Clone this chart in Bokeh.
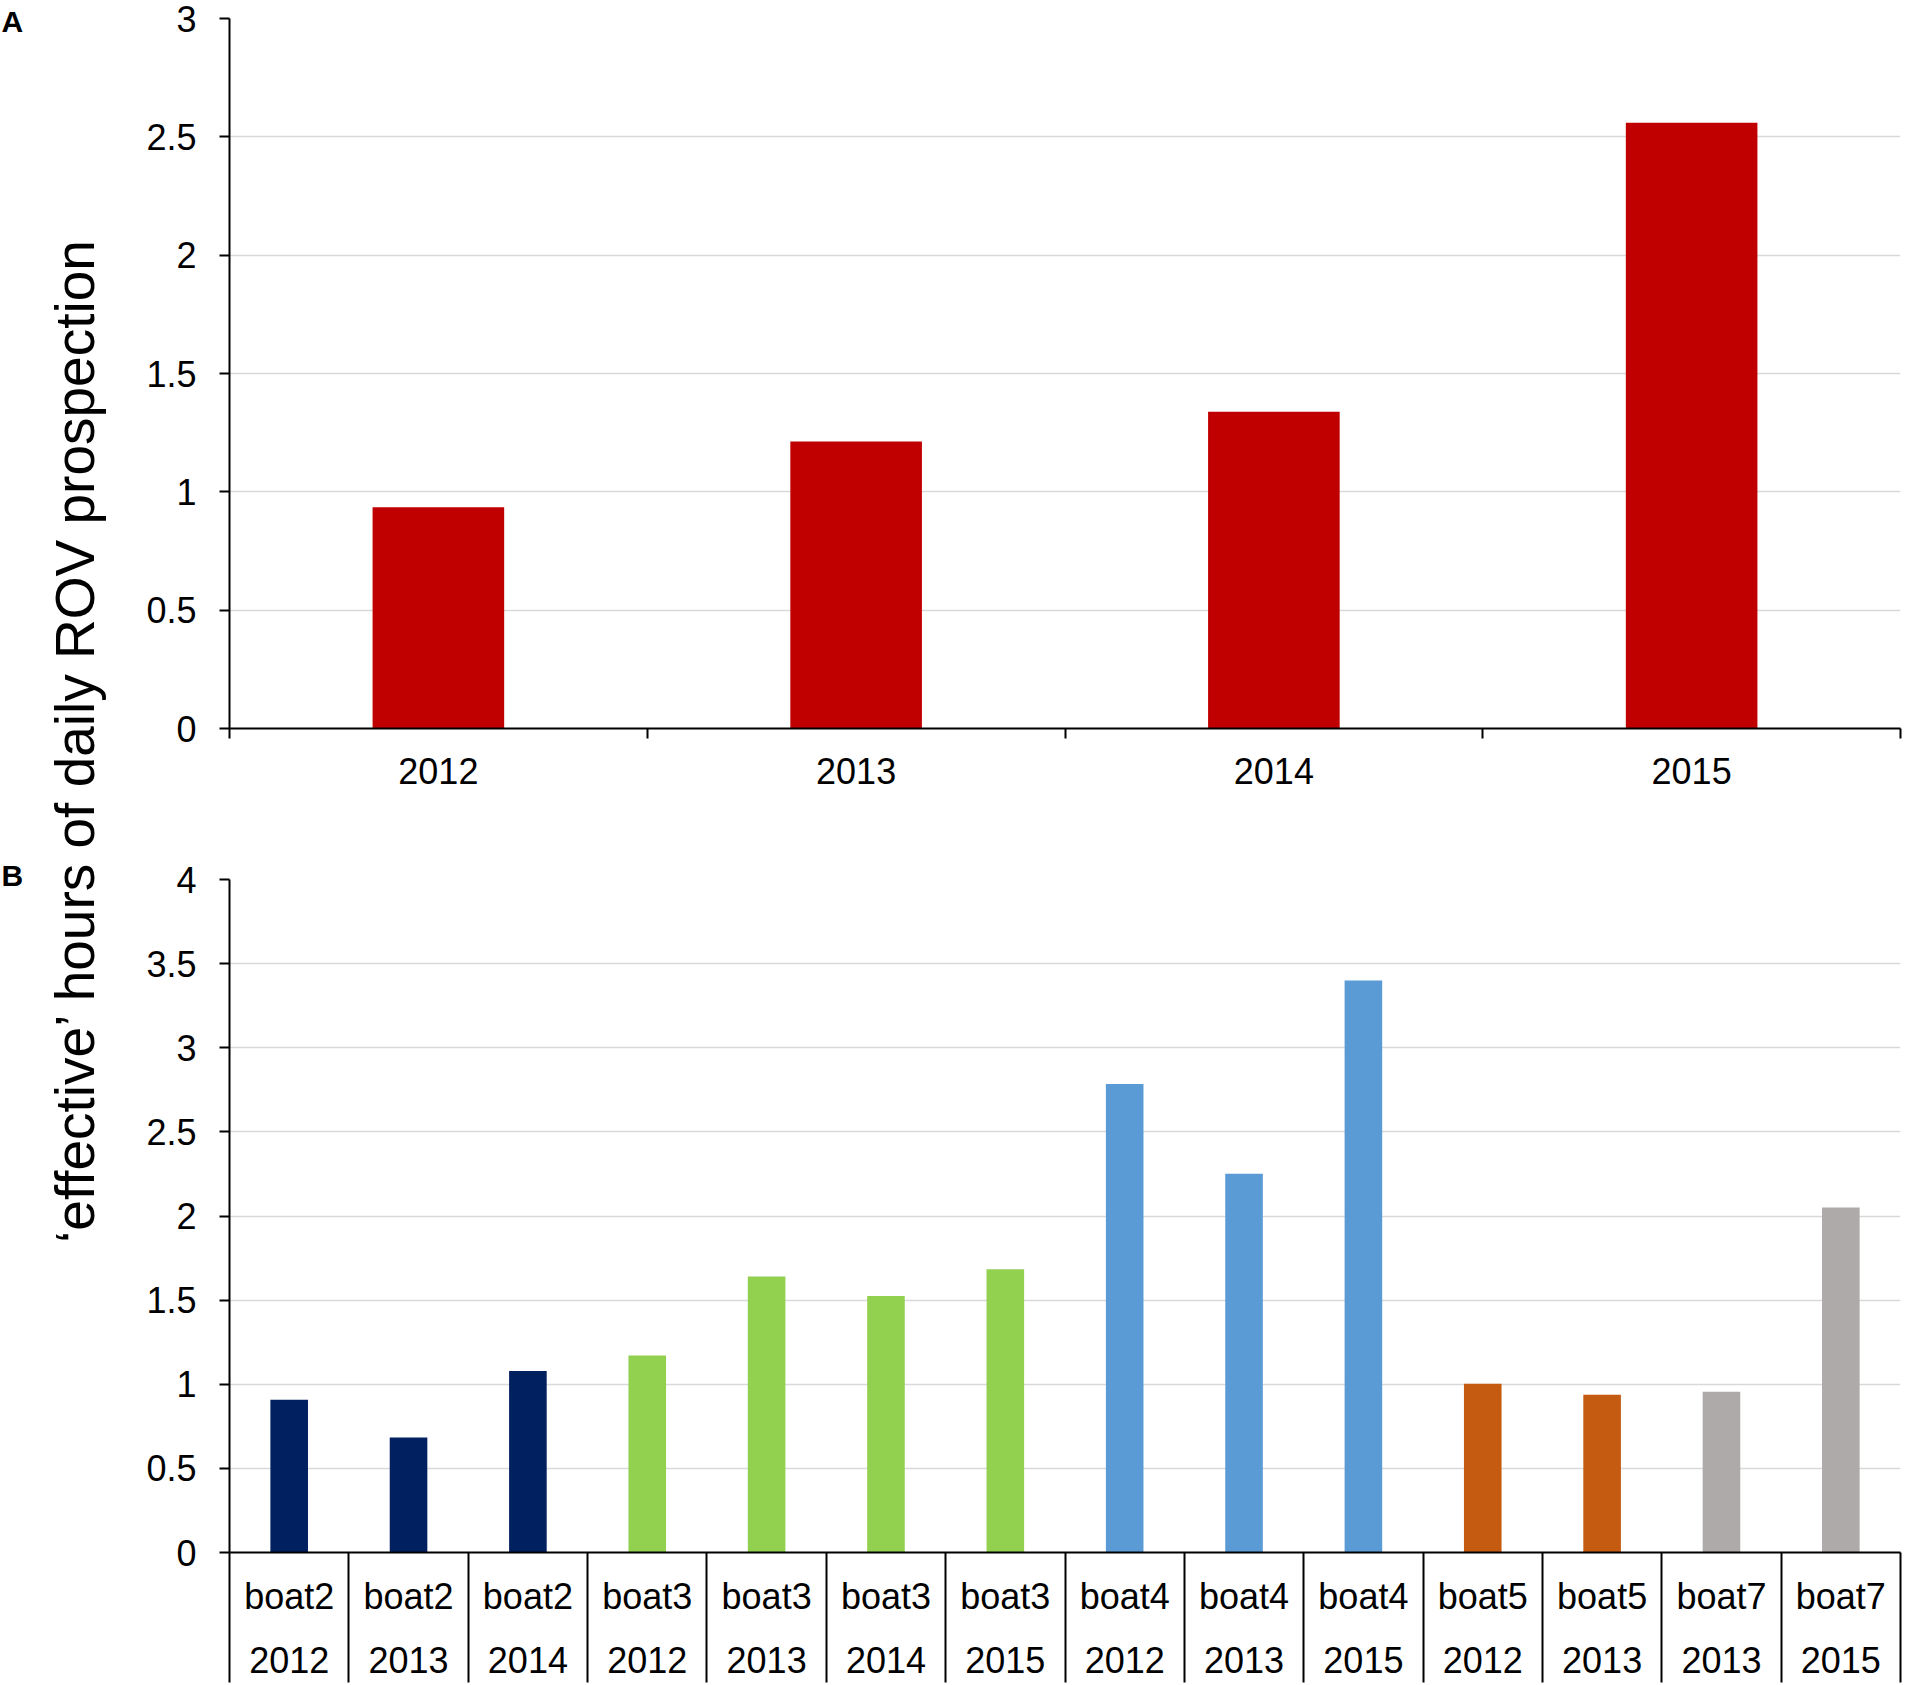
import math
from bokeh.plotting import figure
from bokeh.models import Range1d, FixedTicker, ColumnDataSource
from bokeh.layouts import row, column
from bokeh.embed import file_html
from bokeh.resources import INLINE
from bokeh.core.properties import value

# ---------------- data ----------------
years_a = ["2012", "2013", "2014", "2015"]
hours_a = [0.935, 1.213, 1.338, 2.56]

boats_b = ["boat2", "boat2", "boat2", "boat3", "boat3", "boat3", "boat3",
           "boat4", "boat4", "boat4", "boat5", "boat5", "boat7", "boat7"]
years_b = ["2012", "2013", "2014", "2012", "2013", "2014", "2015",
           "2012", "2013", "2015", "2012", "2013", "2013", "2015"]
hours_b = [0.908, 0.683, 1.079, 1.171, 1.641, 1.524, 1.683,
           2.784, 2.251, 3.40, 1.003, 0.937, 0.956, 2.051]

yticks_a = [0, 0.5, 1, 1.5, 2, 2.5, 3]
ytick_labels_a = ["0", "0.5", "1", "1.5", "2", "2.5", "3"]
yticks_b = [0, 0.5, 1, 1.5, 2, 2.5, 3, 3.5, 4]
ytick_labels_b = ["0", "0.5", "1", "1.5", "2", "2.5", "3", "3.5", "4"]

y_title = "\u2018effective\u2019 hours of daily ROV prospection"

# ---------------- styles ----------------
color_a = "#C00000"
boat_colors = {"boat2": "#002060", "boat3": "#92D050", "boat4": "#5B9BD5",
               "boat5": "#C55A11", "boat7": "#AEAAAA"}
FONT = "Liberation Sans"
TOTAL_W, TOTAL_H = 1905, 1685
TW = 120
PW = TOTAL_W - TW
HA = 808
HB = TOTAL_H - HA
LEFT = 109
BAR_W = 0.315
FS = "36px"


def style_panel(p, yticks, ylabels, n, minor_len, xlabels):
    p.outline_line_color = None
    p.background_fill_color = "white"
    p.border_fill_color = "white"
    p.xgrid.visible = False
    p.ygrid.ticker = FixedTicker(ticks=yticks)
    p.ygrid.grid_line_color = "#d9d9d9"
    p.ygrid.grid_line_width = 1.5
    ya = p.yaxis[0]
    ya.ticker = FixedTicker(ticks=yticks)
    ya.major_label_overrides = {float(t): l for t, l in zip(yticks, ylabels)}
    ya.axis_line_color = "black"
    ya.axis_line_width = 2
    ya.major_tick_line_color = "black"
    ya.major_tick_line_width = 2
    ya.major_tick_out = 10
    ya.major_tick_in = 0
    ya.minor_tick_out = 0
    ya.minor_tick_in = 0
    ya.major_label_standoff = 23
    ya.major_label_text_font = FONT
    ya.major_label_text_font_size = FS
    ya.major_label_text_color = "black"
    xa = p.xaxis[0]
    centers = [i + 0.5 for i in range(n)]
    bounds = [float(i) for i in range(n + 1)]
    xa.ticker = FixedTicker(ticks=centers, minor_ticks=bounds)
    xa.major_label_overrides = {c: l for c, l in zip(centers, xlabels)}
    xa.axis_line_color = "black"
    xa.axis_line_width = 2
    xa.major_tick_out = 0
    xa.major_tick_in = 0
    xa.minor_tick_out = minor_len
    xa.minor_tick_in = 0
    xa.minor_tick_line_color = "black"
    xa.minor_tick_line_width = 2
    xa.major_label_text_font = FONT
    xa.major_label_text_font_size = FS
    xa.major_label_text_color = "black"
    return xa


# ---------------- panel A ----------------
nA = len(years_a)
pA = figure(width=PW, height=HA, x_range=Range1d(0, nA), y_range=Range1d(0, 3),
            output_backend="svg", toolbar_location=None,
            min_border_left=LEFT, min_border_right=5, min_border_top=18,
            min_border_bottom=HA - 728)
srcA = ColumnDataSource(dict(x=[i + 0.5 for i in range(nA)], top=hours_a))
pA.vbar(x="x", top="top", bottom=0, width=BAR_W, source=srcA,
        fill_color=color_a, line_color=None)
xaA = style_panel(pA, yticks_a, ytick_labels_a, nA, 10, years_a)
xaA.major_label_standoff = 19

# ---------------- panel B ----------------
nB = len(hours_b)
pB = figure(width=PW, height=HB, x_range=Range1d(0, nB), y_range=Range1d(0, 4),
            output_backend="svg", toolbar_location=None,
            min_border_left=LEFT, min_border_right=5, min_border_top=879 - HA,
            min_border_bottom=HB - (1552 - HA))
srcB = ColumnDataSource(dict(x=[i + 0.5 for i in range(nB)], top=hours_b,
                             color=[boat_colors[b] for b in boats_b]))
pB.vbar(x="x", top="top", bottom=0, width=BAR_W, source=srcB,
        fill_color="color", line_color=None)
xaB = style_panel(pB, yticks_b, ytick_labels_b, nB, 130,
                  [f"{b}\n{y}" for b, y in zip(boats_b, years_b)])
xaB.major_label_standoff = -107
xaB.major_label_text_line_height = 1.57

# ---------------- title strip ----------------
pt = figure(width=TW, height=TOTAL_H, x_range=Range1d(0, TW), y_range=Range1d(0, TOTAL_H),
            output_backend="svg", toolbar_location=None, min_border=0,
            x_axis_type=None, y_axis_type=None)
pt.outline_line_color = None
pt.grid.visible = False
pt.text(x=[74], y=[TOTAL_H - 740], text=[y_title], angle=math.pi / 2,
        text_font=value(FONT), text_font_size="55px", text_align="center",
        text_baseline="alphabetic", text_color="black")
pt.text(x=[1, 1], y=[TOTAL_H - 21, TOTAL_H - 875], text=["A", "B"],
        text_font=value(FONT), text_font_size="30px", text_font_style="bold",
        text_align="left", text_baseline="alphabetic", text_color="black")

layout = row(pt, column(pA, pB))
open("out.html", "w").write(file_html(layout, INLINE))
